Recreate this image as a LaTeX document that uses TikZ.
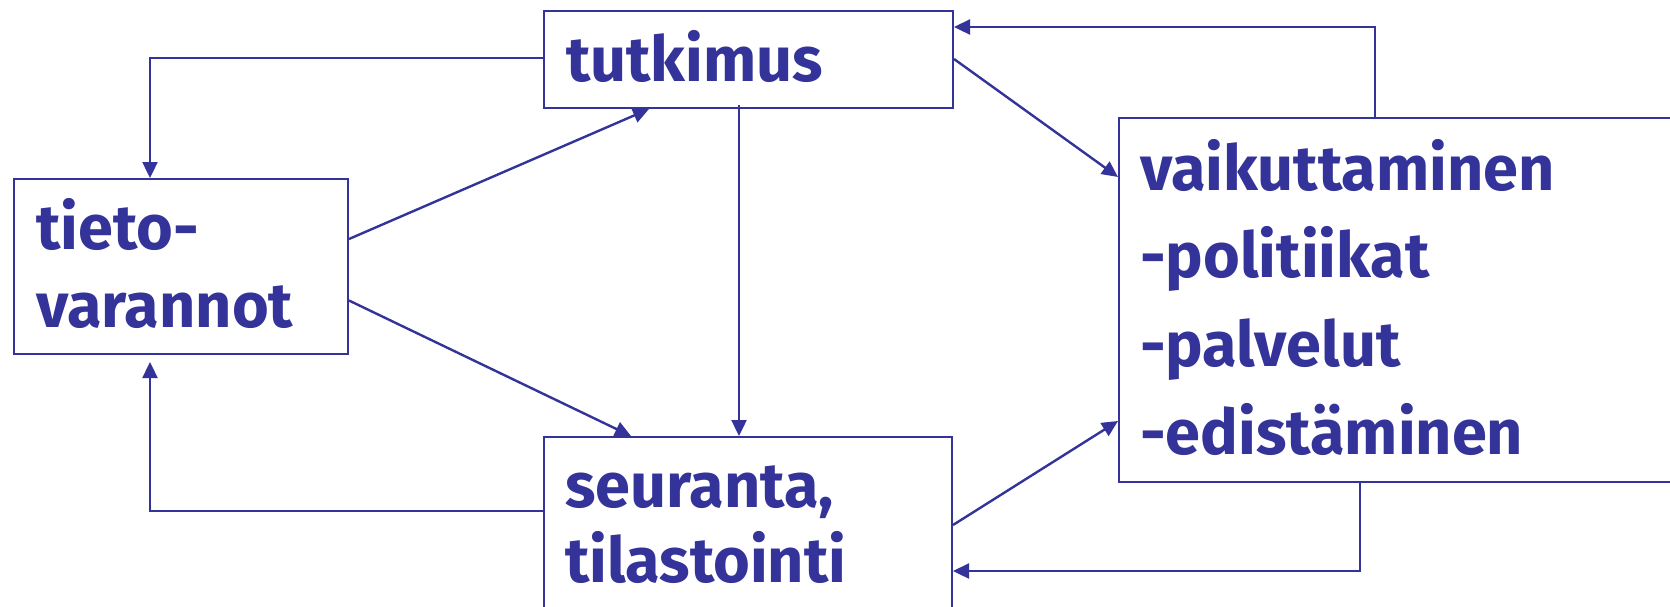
\documentclass[tikz,border=0pt]{standalone}
\usepackage{fontspec}
\setmainfont{Fira Sans}
\usetikzlibrary{arrows.meta,positioning}
\definecolor{ink}{RGB}{51,51,153}
\tikzset{
  box/.style={draw=ink, line width=2pt, rectangle, inner sep=0pt},
  lbl/.style={anchor=base west, inner sep=0pt, text=ink,
    font=\fontsize{63}{63}\selectfont\bfseries},
  arr/.style={draw=ink, line width=2.4pt,
    -{Triangle[length=16pt,width=15pt]}},
}
\begin{document}
\begin{tikzpicture}[x=1pt,y=-1pt]
\useasboundingbox (0,0) rectangle (1670,606);
\clip (0,0) rectangle (1670,606);

% boxes
\node[box, minimum width=409pt, minimum height=97pt]  (tut)   at (748.5,59.5) {};
\node[box, minimum width=334pt, minimum height=175pt] (tieto) at (181,266.5) {};
\node[box, minimum width=408pt, minimum height=213pt] (seu)   at (748,543.5) {};
\node[box, minimum width=581pt, minimum height=364pt] (vaik)  at (1409.5,300) {};

% labels
\node[lbl] (tutL)  at (566,81)  {tutkimus};
\node[lbl] (tieL1) at (36,249)  {tieto-};
\node[lbl] (tieL2) at (36,327)  {varannot};
\node[lbl] (seuL1) at (565,507) {seuranta,};
\node[lbl] (seuL2) at (565,582) {tilastointi};
\node[lbl] (vaiL1) at (1140,190) {vaikuttaminen};
\node[lbl] (vaiL2) at (1140,277) {-politiikat};
\node[lbl] (vaiL3) at (1140,366) {-palvelut};
\node[lbl] (vaiL4) at (1140,454) {-edistäminen};

% connectors
\draw[arr] ([yshift=1.5pt]tut.west) -| ([xshift=137pt]tieto.north west);
\draw[arr] ([yshift=27.5pt]tieto.east) -- ([xshift=106pt]tut.south west);
\draw[arr] ([yshift=-34pt]tieto.east) -- ([xshift=88pt]seu.north west);
\draw[arr] ([xshift=196pt,yshift=4pt]tut.south west) -- ([xshift=196pt]seu.north west);
\draw[arr] ([yshift=0.5pt]tut.east) -- ([yshift=-60pt]vaik.north west);
\draw[arr] ([xshift=257pt]vaik.north west) |- ([yshift=-17pt]tut.north east);
\draw[arr] ([yshift=-89pt]seu.north east) -- ([yshift=-304pt]vaik.north west);
\draw[arr] ([xshift=242pt]vaik.south west) |- ([yshift=-135pt]seu.north east);
\draw[arr, shorten >=7pt] ([yshift=-75pt]seu.north west) -| ([xshift=137pt]tieto.south west);
\end{tikzpicture}
\end{document}
